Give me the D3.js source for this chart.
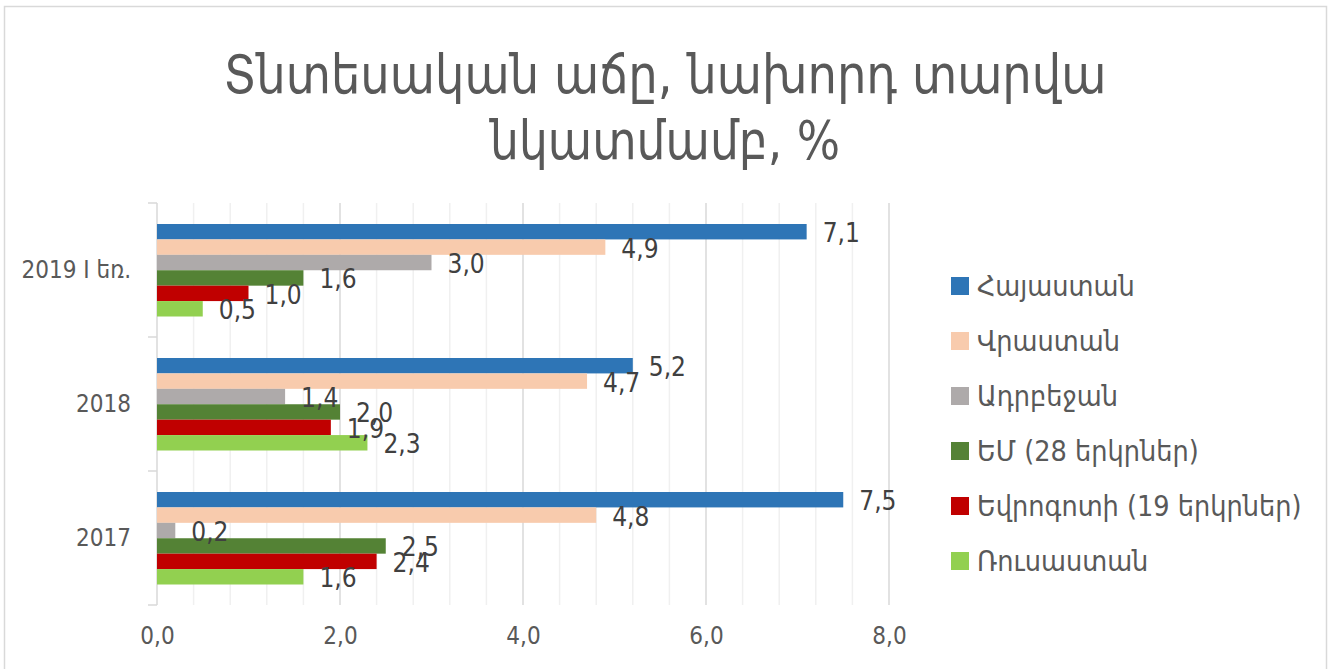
<!DOCTYPE html>
<html>
<head>
<meta charset="utf-8">
<script src="https://cdn.jsdelivr.net/npm/d3@7"></script>
<style>
  body { margin: 0; background: #fff; }
  text { font-family: "DejaVu Sans Condensed", "DejaVu Sans", sans-serif; }
</style>
</head>
<body>
<div id="chart"></div>
<script>
// data
var categories = ["2019 I եռ.", "2018", "2017"];
var seriesNames = ["Հայաստան", "Վրաստան", "Ադրբեջան", "ԵՄ (28 երկրներ)", "Եվրոգոտի (19 երկրներ)", "Ռուսաստան"];
var armenia = [7.1, 5.2, 7.5];
var georgia = [4.9, 4.7, 4.8];
var azerbaijan = [3.0, 1.4, 0.2];
var eu28 = [1.6, 2.0, 2.5];
var euroArea = [1.0, 1.9, 2.4];
var russia = [0.5, 2.3, 1.6];
var xTicks = [0, 2, 4, 6, 8];
var titleLines = ["Տնտեսական աճը, նախորդ տարվա", "նկատմամբ, %"];

var colors = ["#2E75B6", "#F8CBAD", "#AEAAAA", "#548235", "#C00000", "#92D050"];
var seriesValues = [armenia, georgia, azerbaijan, eu28, euroArea, russia];

var svgwidth = 1333, svgheight = 669;
var margin = { top: 203, left: 157 };
var width = 732, height = 402;

var svg = d3.select("#chart").append("svg")
    .attr("width", svgwidth)
    .attr("height", svgheight);

// chart border
svg.append("rect")
    .attr("x", 4.5).attr("y", 6.5)
    .attr("width", 1322).attr("height", 700)
    .attr("fill", "none")
    .attr("stroke", "#d9d9d9")
    .attr("stroke-width", 1.5);

// title
var title = svg.append("g").attr("fill", "#595959");
title.append("text")
    .attr("x", 665).attr("y", 93)
    .attr("text-anchor", "middle")
    .attr("font-size", 54)
    .attr("textLength", 883)
    .attr("lengthAdjust", "spacingAndGlyphs")
    .text(titleLines[0]);
title.append("text")
    .attr("x", 665).attr("y", 159)
    .attr("text-anchor", "middle")
    .attr("font-size", 54)
    .attr("textLength", 350)
    .attr("lengthAdjust", "spacingAndGlyphs")
    .text(titleLines[1]);

var chartGroup = svg.append("g")
    .attr("transform", `translate(${margin.left},${margin.top})`);

var xscale = d3.scaleLinear().domain([0, 8]).range([0, width]);
var yscale = d3.scaleBand().domain(categories).range([0, height]);
var yinner = d3.scaleBand().domain(d3.range(seriesNames.length))
    .range([21, 113.5]);

// gridlines: minor every 0.4, major every 2
var minor = d3.range(0.4, 8.01, 0.4).filter(v => Math.abs(v / 2 - Math.round(v / 2)) > 0.01);
chartGroup.selectAll("line.minor")
    .data(minor)
    .enter().append("line")
    .attr("class", "minor")
    .attr("x1", d => xscale(d)).attr("x2", d => xscale(d))
    .attr("y1", 0).attr("y2", height)
    .attr("stroke", "#f0f0f0").attr("stroke-width", 1.5);
chartGroup.selectAll("line.major")
    .data(xTicks.slice(1))
    .enter().append("line")
    .attr("class", "major")
    .attr("x1", d => xscale(d)).attr("x2", d => xscale(d))
    .attr("y1", 0).attr("y2", height)
    .attr("stroke", "#d9d9d9").attr("stroke-width", 1.5);

// x axis labels
var xAxis = d3.axisBottom(xscale)
    .tickValues(xTicks)
    .tickSize(0)
    .tickPadding(22)
    .tickFormat(d => d3.format(".1f")(d).replace(".", ","));
var xg = chartGroup.append("g")
    .attr("transform", `translate(0, ${height})`)
    .call(xAxis);
xg.select(".domain").remove();
xg.selectAll("text")
    .attr("fill", "#595959")
    .attr("font-size", 24)
    .attr("font-family", "'DejaVu Sans Condensed', 'DejaVu Sans', sans-serif");

// y axis: line, boundary ticks, labels
chartGroup.append("line")
    .attr("x1", 0).attr("x2", 0).attr("y1", 0).attr("y2", height)
    .attr("stroke", "#d9d9d9").attr("stroke-width", 1.5);
var bounds = categories.map(c => yscale(c)).concat([height]);
chartGroup.selectAll("line.ytick")
    .data(bounds)
    .enter().append("line")
    .attr("class", "ytick")
    .attr("x1", -9).attr("x2", 0)
    .attr("y1", d => d).attr("y2", d => d)
    .attr("stroke", "#d9d9d9").attr("stroke-width", 1.5);
var yAxis = d3.axisLeft(yscale).tickSize(0).tickPadding(26);
var yg = chartGroup.append("g").call(yAxis);
yg.select(".domain").remove();
yg.selectAll("text")
    .attr("fill", "#595959")
    .attr("font-size", 24)
    .attr("font-family", "'DejaVu Sans Condensed', 'DejaVu Sans', sans-serif");

// bars
var rows = [];
categories.forEach(function(c, i) {
    seriesValues.forEach(function(vals, s) {
        rows.push({ cat: c, s: s, value: vals[i] });
    });
});

chartGroup.selectAll("rect.bar")
    .data(rows)
    .enter().append("rect")
    .attr("class", "bar")
    .attr("x", 0)
    .attr("y", d => yscale(d.cat) + yinner(d.s))
    .attr("width", d => xscale(d.value))
    .attr("height", yinner.bandwidth())
    .attr("fill", d => colors[d.s]);

chartGroup.selectAll("text.val")
    .data(rows)
    .enter().append("text")
    .attr("class", "val")
    .attr("x", d => xscale(d.value) + 16)
    .attr("y", d => yscale(d.cat) + yinner(d.s) + yinner.bandwidth() / 2 + 1.5)
    .attr("dominant-baseline", "central")
    .attr("font-size", 26)
    .attr("fill", "#404040")
    .text(d => d3.format(".1f")(d.value).replace(".", ","));

// legend
var legend = svg.append("g").attr("transform", "translate(951, 286)");
var items = legend.selectAll("g")
    .data(seriesNames)
    .enter().append("g")
    .attr("transform", (d, i) => `translate(0, ${i * 55})`);
items.append("rect")
    .attr("x", 0).attr("y", -9)
    .attr("width", 18).attr("height", 18)
    .attr("fill", (d, i) => colors[i]);
items.append("text")
    .attr("x", 26).attr("y", 0)
    .attr("dominant-baseline", "central")
    .attr("font-size", 28.5)
    .attr("fill", "#595959")
    .text(d => d);
</script>
</body>
</html>
